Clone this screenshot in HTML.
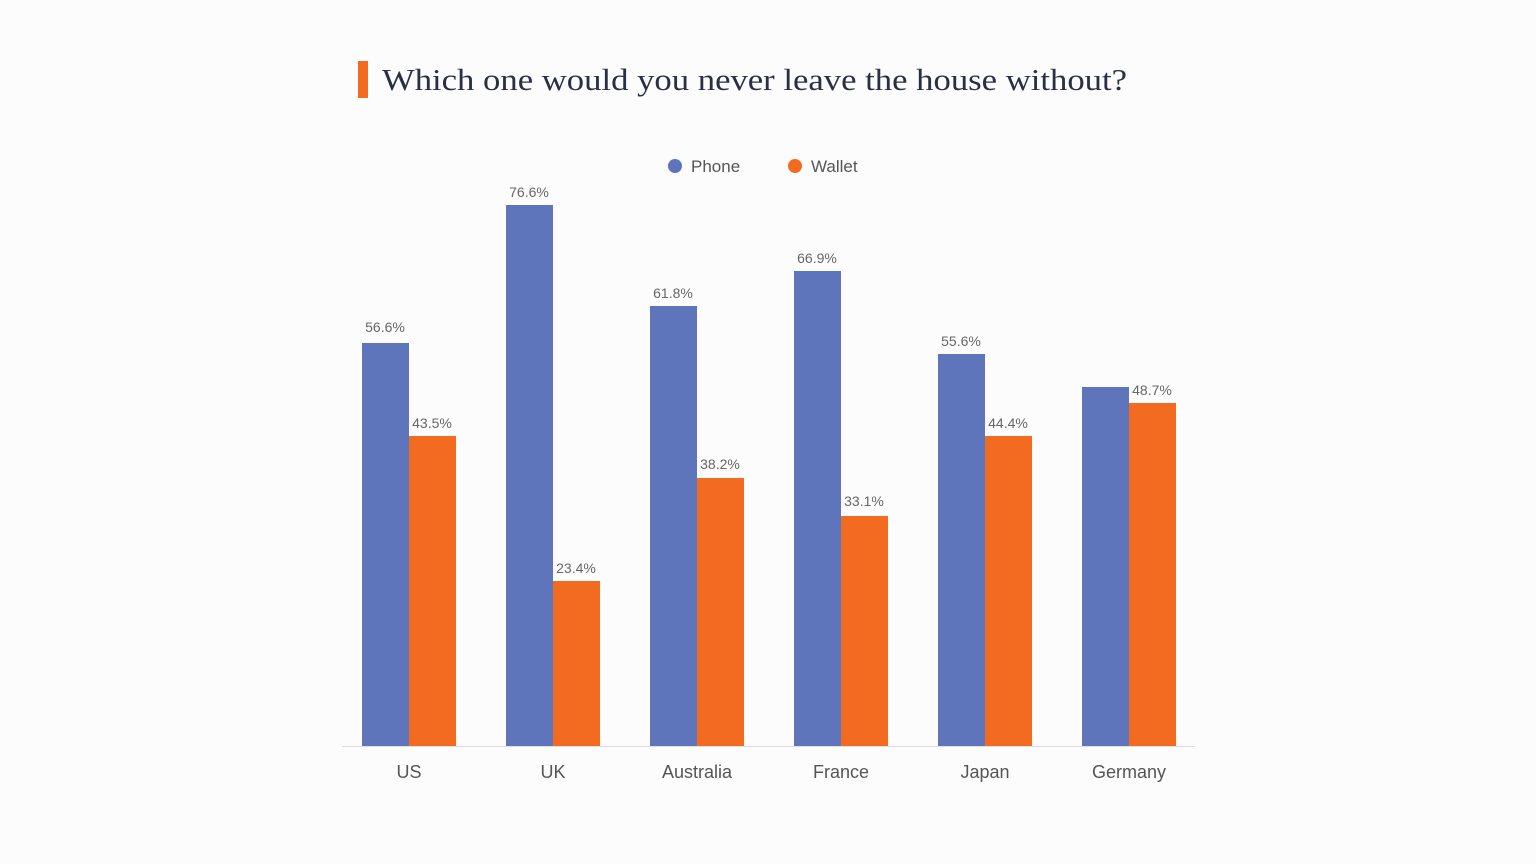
<!DOCTYPE html>
<html><head><style>
html,body{margin:0;padding:0;background:#fcfcfd;}
svg{display:block;}
</style></head><body>
<svg width="1536" height="864" viewBox="0 0 1536 864" xmlns="http://www.w3.org/2000/svg">
<rect width="1536" height="864" fill="#fcfcfd"/>
<rect x="358" y="61" width="10" height="37" fill="#f26b21"/>
<text x="382" y="90" font-family="Liberation Serif, serif" font-size="31" fill="#2a2f45" textLength="745" lengthAdjust="spacingAndGlyphs">Which one would you never leave the house without?</text>
<g font-family="Liberation Sans, sans-serif" font-size="17" fill="#555">
<circle cx="675" cy="166" r="7" fill="#5e74bb"/>
<text x="691" y="172">Phone</text>
<circle cx="795" cy="166" r="7" fill="#f26b21"/>
<text x="811" y="172">Wallet</text>
</g>
<g fill="#5e74bb">
<rect x="362" y="343" width="47" height="403"/>
<rect x="506" y="205" width="47" height="541"/>
<rect x="650" y="306" width="47" height="440"/>
<rect x="794" y="271" width="47" height="475"/>
<rect x="938" y="354" width="47" height="392"/>
<rect x="1082" y="387" width="47" height="359"/>
</g>
<g fill="#f26b21">
<rect x="409" y="436" width="47" height="310"/>
<rect x="553" y="581" width="47" height="165"/>
<rect x="697" y="478" width="47" height="268"/>
<rect x="841" y="516" width="47" height="230"/>
<rect x="985" y="436" width="47" height="310"/>
<rect x="1129" y="403" width="47" height="343"/>
</g>
<line x1="342" y1="746.5" x2="1195" y2="746.5" stroke="#ddd" stroke-width="1"/>
<g font-family="Liberation Sans, sans-serif" font-size="14" fill="#666" text-anchor="middle">
<text x="385" y="332">56.6%</text>
<text x="529" y="197">76.6%</text>
<text x="673" y="298">61.8%</text>
<text x="817" y="263">66.9%</text>
<text x="961" y="346">55.6%</text>
<text x="432" y="428">43.5%</text>
<text x="576" y="573">23.4%</text>
<text x="720" y="469">38.2%</text>
<text x="864" y="506">33.1%</text>
<text x="1008" y="428">44.4%</text>
<text x="1152" y="395">48.7%</text>
</g>
<g font-family="Liberation Sans, sans-serif" font-size="18" fill="#555" text-anchor="middle">
<text x="409" y="778">US</text>
<text x="553" y="778">UK</text>
<text x="697" y="778">Australia</text>
<text x="841" y="778">France</text>
<text x="985" y="778">Japan</text>
<text x="1129" y="778">Germany</text>
</g>
</svg>
</body></html>
